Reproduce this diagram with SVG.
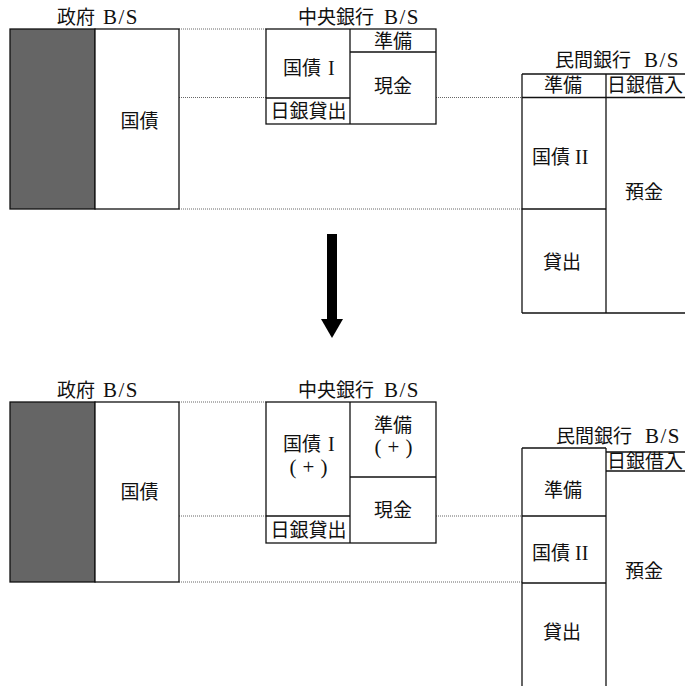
<svg xmlns="http://www.w3.org/2000/svg" width="685" height="686" viewBox="0 0 685 686">
<style>
.box{fill:#fff;stroke:#111;stroke-width:1.3}
.ln{stroke:#111;stroke-width:1.3;fill:none}
.eq{fill:#656565;stroke:#111;stroke-width:1.3}
.dot{stroke:#666;stroke-width:1;stroke-dasharray:1 1;fill:none}
text{font-family:"Liberation Serif","Noto Sans CJK JP",serif;font-size:19px;fill:#111}
.c{text-anchor:middle}
.bs{font-size:21px;letter-spacing:1.5px}
.rm{font-size:20px}
.pl{font-size:21px;text-anchor:middle}
</style>
<rect width="685" height="686" fill="#fff"/>
<g id="connectors">
<line class="dot" x1="179" y1="29" x2="266" y2="29"/>
<line class="dot" x1="179" y1="97.5" x2="266" y2="97.5"/>
<line class="dot" x1="436" y1="97.5" x2="522" y2="97.5"/>
<line class="dot" x1="179" y1="209" x2="522" y2="209"/>
<line class="dot" x1="179" y1="402" x2="266" y2="402"/>
<line class="dot" x1="179" y1="516" x2="266" y2="516"/>
<line class="dot" x1="436" y1="516" x2="522" y2="516"/>
<line class="dot" x1="179" y1="582" x2="522" y2="582"/>
</g>
<g id="gov-top">
<text x="57" y="24">政府<tspan class="bs" x="103">B/S</tspan></text>
<rect class="eq" x="10" y="29" width="85" height="180"/>
<rect class="box" x="95" y="29" width="84" height="180"/>
<text class="c" x="139.5" y="128">国債</text>
</g>
<g id="cb-top">
<text x="298" y="24">中央銀行<tspan class="bs" x="384">B/S</tspan></text>
<rect class="box" x="266" y="29" width="170" height="95"/>
<line class="ln" x1="350" y1="29" x2="350" y2="124"/>
<line class="ln" x1="350" y1="52" x2="436" y2="52"/>
<line class="ln" x1="266" y1="98" x2="350" y2="98"/>
<text class="c" x="393" y="48">準備</text>
<text x="283" y="75">国債<tspan class="rm" x="328">I</tspan></text>
<text class="c" x="393" y="93">現金</text>
<text class="c" x="308.5" y="118">日銀貸出</text>
</g>
<g id="pb-top">
<text x="555" y="67">民間銀行<tspan class="bs" x="644">B/S</tspan></text>
<line class="ln" x1="522" y1="74" x2="686" y2="74"/>
<line class="ln" x1="522" y1="74" x2="522" y2="313"/>
<line class="ln" x1="606" y1="74" x2="606" y2="313"/>
<line class="ln" x1="522" y1="97.5" x2="686" y2="97.5"/>
<line class="ln" x1="522" y1="209" x2="606" y2="209"/>
<line class="ln" x1="522" y1="313" x2="686" y2="313"/>
<text class="c" x="563" y="92">準備</text>
<text x="607" y="92">日銀借入</text>
<text x="532" y="163.5">国債<tspan class="rm" x="575">II</tspan></text>
<text class="c" x="644" y="199">預金</text>
<text class="c" x="562" y="268.5">貸出</text>
</g>
<g id="arrow">
<rect x="327" y="234" width="10" height="86" fill="#000"/>
<polygon points="321,319 343,319 332,338" fill="#000"/>
</g>
<g id="gov-bottom">
<text x="57" y="397">政府<tspan class="bs" x="103">B/S</tspan></text>
<rect class="eq" x="10" y="402" width="85" height="180"/>
<rect class="box" x="95" y="402" width="84" height="180"/>
<text class="c" x="139.5" y="499">国債</text>
</g>
<g id="cb-bottom">
<text x="298" y="397">中央銀行<tspan class="bs" x="384">B/S</tspan></text>
<rect class="box" x="266" y="402" width="170" height="141"/>
<line class="ln" x1="350" y1="402" x2="350" y2="543"/>
<line class="ln" x1="350" y1="477" x2="436" y2="477"/>
<line class="ln" x1="266" y1="516" x2="350" y2="516"/>
<text x="283" y="450.5">国債<tspan class="rm" x="328">I</tspan></text>
<text class="pl" y="474"><tspan x="293">(</tspan><tspan x="308.5">+</tspan><tspan x="324">)</tspan></text>
<text class="c" x="393" y="431.5">準備</text>
<text class="pl" y="454"><tspan x="378">(</tspan><tspan x="393.5">+</tspan><tspan x="409">)</tspan></text>
<text class="c" x="393" y="517">現金</text>
<text class="c" x="308.5" y="537">日銀貸出</text>
</g>
<g id="pb-bottom">
<text x="556" y="443">民間銀行<tspan class="bs" x="645">B/S</tspan></text>
<line class="ln" x1="522" y1="448" x2="606" y2="448"/>
<line class="ln" x1="606" y1="452" x2="686" y2="452"/>
<line class="ln" x1="522" y1="448" x2="522" y2="686"/>
<line class="ln" x1="606" y1="448" x2="606" y2="686"/>
<line class="ln" x1="606" y1="471" x2="686" y2="471"/>
<line class="ln" x1="522" y1="516" x2="606" y2="516"/>
<line class="ln" x1="522" y1="583" x2="606" y2="583"/>
<text x="607" y="467.5">日銀借入</text>
<text class="c" x="563" y="497">準備</text>
<text x="532" y="560">国債<tspan class="rm" x="575">II</tspan></text>
<text class="c" x="644" y="578">預金</text>
<text class="c" x="562" y="639">貸出</text>
</g>
</svg>
